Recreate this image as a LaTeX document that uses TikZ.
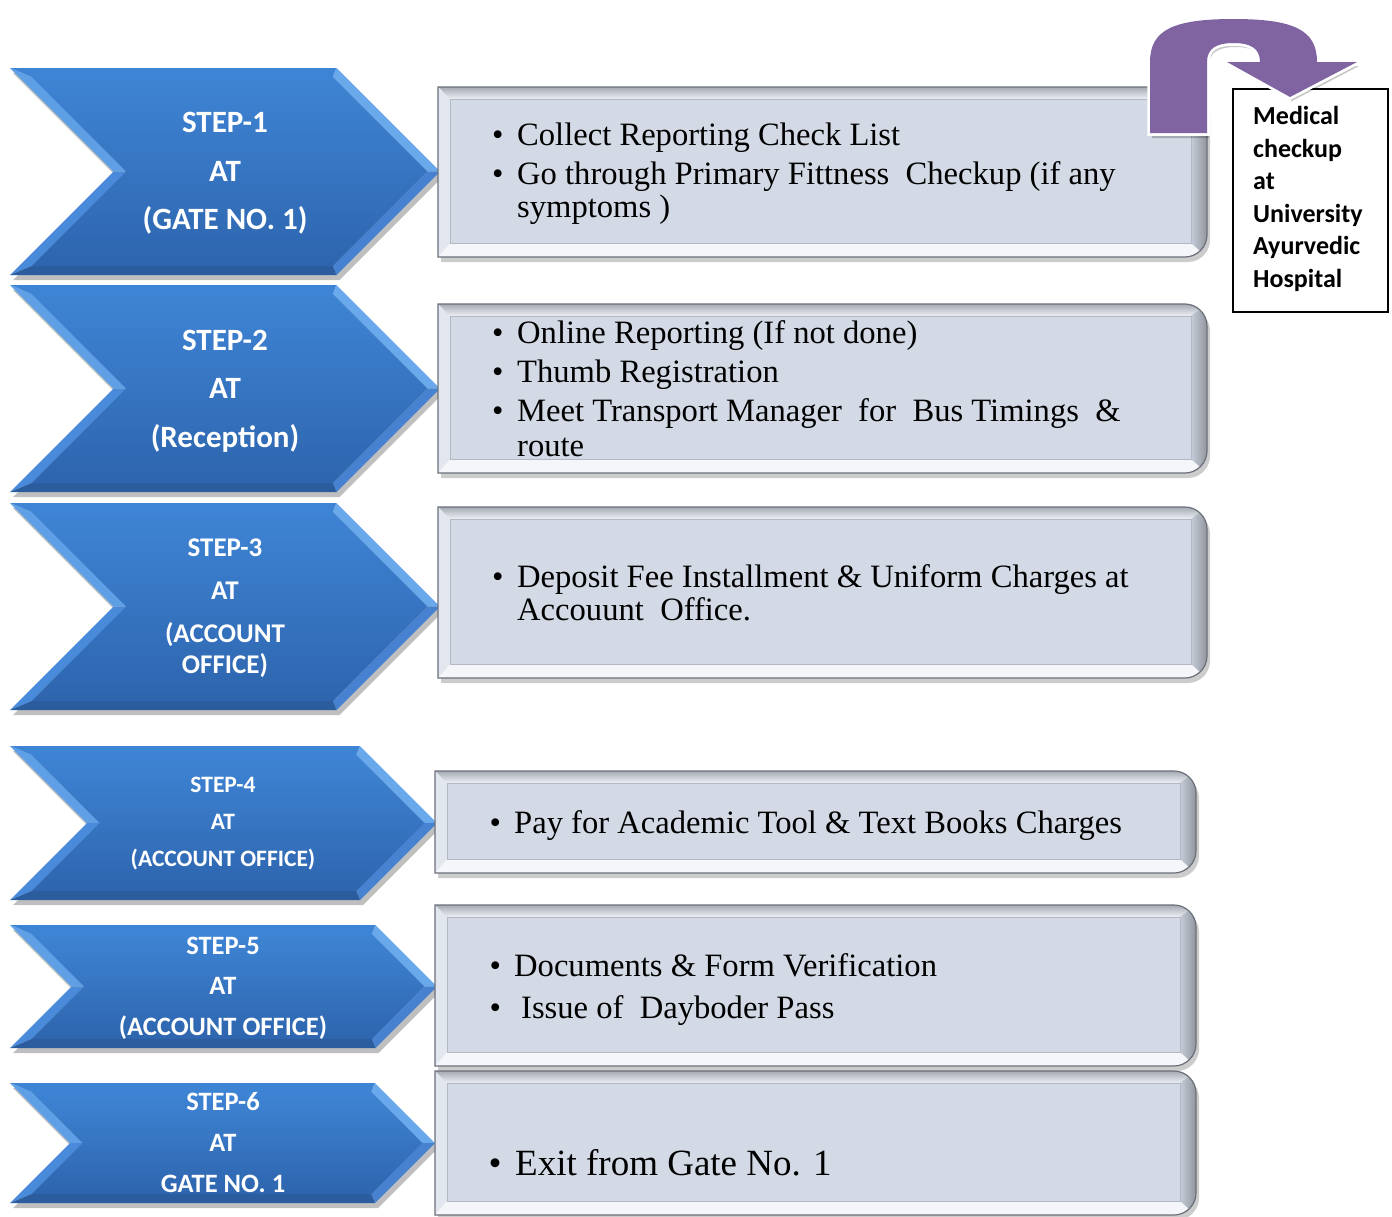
\documentclass[tikz,border=0pt]{standalone}
\usepackage{fontspec}
\setmainfont{Liberation Serif}
\newfontfamily\stepfont{Carlito}
\definecolor{chevtop}{HTML}{3E84D4}
\definecolor{chevbot}{HTML}{2E65AE}
\definecolor{panface}{HTML}{D3DAE6}
\definecolor{panline}{HTML}{6A6F79}
\definecolor{arrowpurple}{HTML}{8064A2}
\definecolor{chevlight}{HTML}{5E9FE6}
\definecolor{chevlight2}{HTML}{6AA8EC}
\definecolor{chevmid}{HTML}{4A8ADA}
\definecolor{chevmid2}{HTML}{4682CF}
\definecolor{chevdark}{HTML}{2B5C9E}
\newcommand{\bul}[1]{\makebox[#1][l]{•}}
\newcommand{\mychevron}[4]{%
 \begin{scope}[shift={(#1,#2)}]
  \pgfmathsetmacro\cvW{#3}\pgfmathsetmacro\cvH{#4}\pgfmathsetmacro\cvD{#4/2}
  \fill[black,opacity=.25] (3,5) -- (\cvW-\cvD+3,5) -- (\cvW+3,\cvD+5) -- (\cvW-\cvD+3,\cvH+5) -- (3,\cvH+5) -- (\cvD+3,\cvD+5) -- cycle;
  \fill[fill=chevtop] (0,0) -- (\cvW-\cvD,0) -- (\cvW-\cvD-3.7,9) -- (21.7,9) -- cycle;
  \fill[fill=chevlight] (0,0) -- (21.7,9) -- (\cvD+12.7,\cvD) -- (\cvD,\cvD) -- cycle;
  \fill[fill=chevmid] (\cvD,\cvD) -- (\cvD+12.7,\cvD) -- (21.7,\cvH-9) -- (0,\cvH) -- cycle;
  \fill[fill=chevlight2] (\cvW-\cvD,0) -- (\cvW,\cvD) -- (\cvW-12.7,\cvD) -- (\cvW-\cvD-3.7,9) -- cycle;
  \fill[fill=chevmid2] (\cvW,\cvD) -- (\cvW-\cvD,\cvH) -- (\cvW-\cvD-3.7,\cvH-9) -- (\cvW-12.7,\cvD) -- cycle;
  \fill[fill=chevdark] (0,\cvH) -- (21.7,\cvH-9) -- (\cvW-\cvD-3.7,\cvH-9) -- (\cvW-\cvD,\cvH) -- cycle;
  \shade[top color=chevtop, bottom color=chevbot] (21.7,9) -- (\cvW-\cvD-3.7,9) -- (\cvW-12.7,\cvD) -- (\cvW-\cvD-3.7,\cvH-9) -- (21.7,\cvH-9) -- (\cvD+12.7,\cvD) -- cycle;
 \end{scope}}
\newcommand{\infopanel}[4]{%
 \begin{scope}[shift={(#1,#2)}]
  \pgfmathsetmacro\pnW{#3-#1}\pgfmathsetmacro\pnH{#4-#2}
  \fill[black,opacity=.2] (3,5) -- (\pnW-19,5) .. controls (\pnW-7,5) and (\pnW+3,15) .. (\pnW+3,27) -- (\pnW+3,\pnH-17) .. controls (\pnW+3,\pnH-5) and (\pnW-7,\pnH+5) .. (\pnW-19,\pnH+5) -- (3,\pnH+5) -- cycle;
  \begin{scope}
   \clip (0,0) -- (\pnW-22,0) .. controls (\pnW-10,0) and (\pnW,10) .. (\pnW,22) -- (\pnW,\pnH-22) .. controls (\pnW,\pnH-10) and (\pnW-10,\pnH) .. (\pnW-22,\pnH) -- (0,\pnH) -- cycle;
   \shade[top color=black!22!panface, bottom color=white!60!panface] (0,0) -- (\pnW,0) -- (\pnW-16,12) -- (12,12) -- cycle;
   \fill[fill=white!35!panface] (0,0) -- (12,12) -- (12,\pnH-14) -- (0,\pnH) -- cycle;
   \fill[fill=white!75!panface] (0,\pnH) -- (12,\pnH-14) -- (\pnW-16,\pnH-14) -- (\pnW,\pnH) -- cycle;
   \shade[left color=black!6!panface, right color=black!32!panface] (\pnW,0) -- (\pnW,\pnH) -- (\pnW-16,\pnH-14) -- (\pnW-16,12) -- cycle;
   \fill[fill=panface] (12,12) rectangle (\pnW-16,\pnH-14);
   \draw[black!15!panface, line width=.6] (12,12) rectangle (\pnW-16,\pnH-14);
  \end{scope}
  \draw[panline, line width=1.2] (0,0) -- (\pnW-22,0) .. controls (\pnW-10,0) and (\pnW,10) .. (\pnW,22) -- (\pnW,\pnH-22) .. controls (\pnW,\pnH-10) and (\pnW-10,\pnH) .. (\pnW-22,\pnH) -- (0,\pnH) -- cycle;
 \end{scope}}
\begin{document}
\begin{tikzpicture}[x=1pt,y=-1pt,
  steptxt/.style={text=white, align=center, inner sep=0pt},
  bl/.style={anchor=base west, inner sep=0pt, font=\fontsize{32.6}{39}\selectfont},
  blbig/.style={anchor=base west, inner sep=0pt, font=\fontsize{37}{44}\selectfont}]
\useasboundingbox (0,0) rectangle (1392,1216);
\fill[white] (0,0) rectangle (1392,1216);

% chevrons
\mychevron{10}{68}{430}{207}
\mychevron{10}{285}{430}{207}
\mychevron{10}{503}{430}{207}
\mychevron{10}{746}{427}{154}
\mychevron{10}{925}{427}{123}
\mychevron{10}{1083}{425}{120}

\node[steptxt, font=\stepfont\bfseries\fontsize{31}{48.5}\selectfont] (s1) at (225,173.5) {STEP-1\\AT\\(GATE NO. 1)};
\node[steptxt, font=\stepfont\bfseries\fontsize{31}{48.5}\selectfont] (s2) at (225,391) {STEP-2\\AT\\(Reception)};
\node[steptxt, font=\stepfont\bfseries\fontsize{27}{31}\selectfont] (s3) at (225,608) {STEP-3\\[12pt]AT\\[12pt](ACCOUNT\\OFFICE)};
\node[steptxt, font=\stepfont\bfseries\fontsize{23.5}{37}\selectfont] (s4) at (223,824) {STEP-4\\AT\\(ACCOUNT OFFICE)};
\node[steptxt, font=\stepfont\bfseries\fontsize{26.5}{40.5}\selectfont] (s5) at (223,988) {STEP-5\\AT\\(ACCOUNT OFFICE)};
\node[steptxt, font=\stepfont\bfseries\fontsize{26.5}{41}\selectfont] (s6) at (223,1143) {STEP-6\\AT\\GATE NO. 1};

% panels
\infopanel{438}{87}{1207}{257}
\infopanel{438}{304}{1207}{473}
\infopanel{438}{507}{1207}{678}
\infopanel{435}{771}{1196}{873}
\infopanel{435}{905}{1196}{1066}
\infopanel{435}{1071}{1196}{1215}

\node[bl] (b1a) at (492,145) {\bul{25pt}Collect Reporting Check List};
\node[bl] (b1b) at (492,184) {\bul{25pt}Go through Primary Fittness~ Checkup (if any};
\node[bl] (b1c) at (517,217) {symptoms )};

\node[bl] (b2a) at (492,343) {\bul{25pt}Online Reporting (If not done)};
\node[bl] (b2b) at (492,382) {\bul{25pt}Thumb Registration};
\node[bl] (b2c) at (492,421) {\bul{25pt}Meet Transport Manager~ for~ Bus Timings~ \&};
\node[bl] (b2d) at (517,456) {route};

\node[bl] (b3a) at (492,587) {\bul{25pt}Deposit Fee Installment \& Uniform Charges at};
\node[bl] (b3b) at (517,620) {Accouunt~ Office.};

\node[bl] (b4a) at (489.4,833) {\bul{24.6pt}Pay for Academic Tool \& Text Books Charges};

\node[bl] (b5a) at (489.4,976) {\bul{24.6pt}Documents \& Form Verification};
\node[bl] (b5b) at (489.4,1018) {\bul{31.6pt}Issue of~ Dayboder Pass};

\node[blbig] (b6a) at (488.5,1175) {\bul{26.5pt}Exit from Gate No. 1};

% medical box
\node[draw=black, line width=1.6pt, fill=white, minimum width=155pt, minimum height=223pt, anchor=north west, inner sep=0pt] (med) at (1232,88) {};
\node[anchor=north west, align=left, inner sep=0pt, font=\stepfont\bfseries\fontsize{26}{32.6}\selectfont] (medtxt) at (1253,106) {Medical\\checkup\\at\\University\\Ayurvedic\\Hospital};

% purple U-turn arrow
\fill[black,opacity=.22] (1152,138) -- (1152,66) .. controls (1152,36) and (1175,24) .. (1235.5,24) .. controls (1296,24) and (1319,36) .. (1319,66) -- (1359,66) -- (1292,101) -- (1229,66) -- (1262,66) .. controls (1262,52) and (1252,47) .. (1235.5,47) .. controls (1219,47) and (1209,52) .. (1209,66) -- (1209,138) -- cycle;
\filldraw[fill=arrowpurple, draw=white, line width=5.5pt, line join=miter] (1150,133) -- (1150,62) .. controls (1150,30) and (1173,19) .. (1233.5,19) .. controls (1294,19) and (1317,30) .. (1317,62) -- (1357,62) -- (1290,97) -- (1227,62) -- (1260,62) .. controls (1260,48) and (1250,43) .. (1233.5,43) .. controls (1217,43) and (1207,48) .. (1207,62) -- (1207,133) -- cycle;
\fill[arrowpurple] (1150,133) -- (1150,62) .. controls (1150,30) and (1173,19) .. (1233.5,19) .. controls (1294,19) and (1317,30) .. (1317,62) -- (1357,62) -- (1290,97) -- (1227,62) -- (1260,62) .. controls (1260,48) and (1250,43) .. (1233.5,43) .. controls (1217,43) and (1207,48) .. (1207,62) -- (1207,133) -- cycle;
\end{tikzpicture}
\end{document}
